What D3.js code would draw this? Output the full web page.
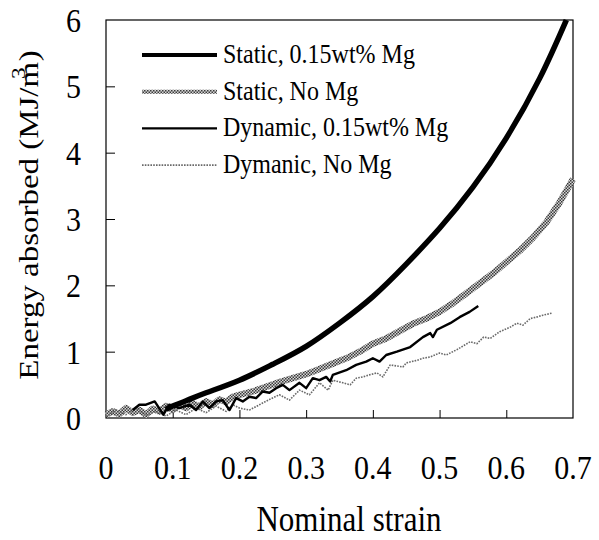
<!DOCTYPE html>
<html>
<head>
<meta charset="utf-8">
<script src="https://cdn.jsdelivr.net/npm/d3@7"></script>
<style>
  body { margin: 0; background: #fff; }
  svg { display: block; }
  text { font-family: "Liberation Serif", "Times New Roman", serif; fill: #000; }
  .tick line { stroke: #000; stroke-width: 1; }
  .domain { display: none; }
</style>
</head>
<body>
<svg id="chart" width="599" height="540"></svg>
<script>
// tick labels
var xTicks = [0, 0.1, 0.2, 0.3, 0.4, 0.5, 0.6, 0.7];
var yTicks = [0, 1, 2, 3, 4, 5, 6];

// Static, 0.15wt% Mg
var staticMgStrain = [0.09, 0.1, 0.12, 0.15, 0.2, 0.25, 0.3, 0.35, 0.4, 0.45, 0.5, 0.55, 0.6, 0.65, 0.69];
var staticMgEnergy = [0.13, 0.18, 0.26, 0.38, 0.57, 0.81, 1.08, 1.43, 1.83, 2.32, 2.86, 3.48, 4.22, 5.12, 6.0];

// Static, No Mg
var staticNoStrain = [0, 0.01, 0.02, 0.03, 0.04, 0.05, 0.06, 0.07, 0.08, 0.09, 0.1, 0.11, 0.12, 0.13, 0.14, 0.15, 0.16, 0.17, 0.18, 0.19, 0.2,
  0.22, 0.24, 0.26, 0.28, 0.3, 0.32, 0.34, 0.36, 0.38, 0.4, 0.42, 0.44, 0.46, 0.48, 0.5, 0.52, 0.54, 0.56, 0.58, 0.6, 0.62, 0.64, 0.66, 0.68, 0.7];
var staticNoEnergy = [0.05, 0.1, 0.06, 0.15, 0.08, 0.12, 0.05, 0.14, 0.1, 0.18, 0.12, 0.2, 0.15, 0.22, 0.17, 0.25, 0.2, 0.28, 0.24, 0.32, 0.35,
  0.4, 0.47, 0.54, 0.6, 0.66, 0.74, 0.82, 0.9, 1.0, 1.12, 1.2, 1.31, 1.42, 1.5, 1.6, 1.73, 1.88, 2.03, 2.18, 2.35, 2.52, 2.72, 2.95, 3.25, 3.6];

// Dynamic, 0.15wt% Mg
var dynMgStrain = [0.04, 0.05, 0.06, 0.073, 0.086, 0.095, 0.11, 0.125, 0.135, 0.145, 0.155, 0.165, 0.175, 0.185, 0.195, 0.205, 0.215, 0.225,
  0.235, 0.245, 0.255, 0.265, 0.275, 0.29, 0.3, 0.31, 0.32, 0.33, 0.336, 0.34, 0.36, 0.375, 0.39, 0.4, 0.41, 0.42, 0.436, 0.456, 0.475, 0.486,
  0.49, 0.496, 0.516, 0.53, 0.545, 0.558];
var dynMgEnergy = [0.12, 0.2, 0.2, 0.25, 0.05, 0.2, 0.15, 0.2, 0.12, 0.25, 0.15, 0.25, 0.27, 0.12, 0.3, 0.25, 0.32, 0.3,
  0.4, 0.38, 0.45, 0.5, 0.42, 0.53, 0.45, 0.6, 0.57, 0.62, 0.55, 0.65, 0.72, 0.8, 0.85, 0.9, 0.85, 0.95, 1.0, 1.07, 1.22, 1.28,
  1.22, 1.33, 1.43, 1.52, 1.6, 1.69];

// Dymanic, No Mg
var dynNoStrain = [0, 0.015, 0.03, 0.045, 0.06, 0.075, 0.09, 0.105, 0.12, 0.135, 0.15, 0.165, 0.18, 0.19, 0.2, 0.215, 0.23, 0.245, 0.26, 0.275,
  0.29, 0.305, 0.32, 0.333, 0.34, 0.355, 0.366, 0.375, 0.385, 0.395, 0.406, 0.415, 0.426, 0.445, 0.45, 0.466, 0.475, 0.486, 0.5, 0.51,
  0.526, 0.546, 0.556, 0.566, 0.576, 0.59, 0.606, 0.616, 0.625, 0.636, 0.645, 0.655, 0.668];
var dynNoEnergy = [0.02, 0.12, 0.05, 0.15, 0.04, 0.1, 0.03, 0.12, 0.05, 0.15, 0.08, 0.18, 0.1, 0.2, 0.15, 0.12, 0.2, 0.28, 0.35, 0.27,
  0.42, 0.35, 0.53, 0.42, 0.57, 0.53, 0.5, 0.6, 0.62, 0.65, 0.68, 0.62, 0.8, 0.77, 0.83, 0.87, 0.9, 0.92, 0.98, 0.95,
  1.03, 1.15, 1.12, 1.22, 1.2, 1.3, 1.37, 1.43, 1.4, 1.5, 1.52, 1.55, 1.58];

var seriesNames = ["Static, 0.15wt% Mg", "Static, No Mg", "Dynamic, 0.15wt% Mg", "Dymanic, No Mg"];

function pairs(xs, ys) {
    return xs.map(function(d, i) { return [d, ys[i]]; });
}

var svg = d3.select("#chart");

var x = d3.scaleLinear().domain([0, 0.7]).range([106, 573]);
var y = d3.scaleLinear().domain([0, 6]).range([418, 20]);

// dithered grey texture for the static no-Mg band
var defs = svg.append("defs");
var pat = defs.append("pattern")
    .attr("id", "dither")
    .attr("patternUnits", "userSpaceOnUse")
    .attr("width", 3)
    .attr("height", 3);
pat.append("rect").attr("width", 3).attr("height", 3).attr("fill", "#d6d6d6");
pat.append("rect").attr("width", 1.5).attr("height", 1.5).attr("fill", "#3a3a3a");
pat.append("rect").attr("x", 1.5).attr("y", 1.5).attr("width", 1.5).attr("height", 1.5).attr("fill", "#3a3a3a");

var styles = [
    { stroke: "#000", width: 5.5, dash: null, curve: d3.curveNatural },
    { stroke: "url(#dither)", width: 6.5, dash: null, curve: d3.curveLinear },
    { stroke: "#000", width: 2.4, dash: null, curve: d3.curveLinear },
    { stroke: "#6a6a6a", width: 1.6, dash: "1.6,1.2", curve: d3.curveLinear }
];

var data = [
    pairs(staticMgStrain, staticMgEnergy),
    pairs(staticNoStrain, staticNoEnergy),
    pairs(dynMgStrain, dynMgEnergy),
    pairs(dynNoStrain, dynNoEnergy)
];

// frame
svg.append("rect")
    .attr("x", x(0)).attr("y", y(6))
    .attr("width", x(0.7) - x(0)).attr("height", y(0) - y(6))
    .attr("fill", "none").attr("stroke", "#000").attr("stroke-width", 1.2);

// inner ticks
svg.append("g")
    .attr("transform", "translate(0," + y(0) + ")")
    .call(d3.axisBottom(x).tickValues([0.1, 0.2, 0.3, 0.4, 0.5, 0.6]).tickSize(-8).tickFormat(""));
svg.append("g")
    .attr("transform", "translate(" + x(0) + ",0)")
    .call(d3.axisLeft(y).tickValues([1, 2, 3, 4, 5]).tickSize(-9).tickFormat(""));

// curves, drawn back to front
var order = [1, 3, 2, 0];
order.forEach(function(i) {
    var line = d3.line()
        .x(function(d) { return x(d[0]); })
        .y(function(d) { return y(d[1]); })
        .curve(styles[i].curve);
    svg.append("path")
        .datum(data[i])
        .attr("d", line)
        .attr("fill", "none")
        .attr("stroke", styles[i].stroke)
        .attr("stroke-width", styles[i].width)
        .attr("stroke-dasharray", styles[i].dash)
        .attr("stroke-linejoin", "round");
});

var vs = 1.13; // the figure's type is slightly taller than wide

// tick labels
svg.append("g").selectAll("text")
    .data(xTicks)
    .enter().append("text")
        .attr("transform", function(d) { return "translate(" + x(d) + ",479) scale(1," + vs + ")"; })
        .attr("text-anchor", "middle")
        .style("font-size", "30px")
        .text(function(d) { return d === 0 ? "0" : d3.format(".1f")(d); });

svg.append("g").selectAll("text")
    .data(yTicks)
    .enter().append("text")
        .attr("transform", function(d) { return "translate(81," + (y(d) + 12) + ") scale(1," + vs + ")"; })
        .attr("text-anchor", "end")
        .style("font-size", "30px")
        .text(function(d) { return d; });

// axis titles
svg.append("text")
    .attr("transform", "translate(349,531) scale(1," + vs + ")")
    .attr("text-anchor", "middle")
    .style("font-size", "31px")
    .text("Nominal strain");

var yt = svg.append("text")
    .attr("transform", "translate(38,215) rotate(-90) scale(1.22,1)")
    .attr("text-anchor", "middle")
    .style("font-size", "27px");
yt.append("tspan").text("Energy absorbed (MJ/m");
yt.append("tspan").attr("dx", -14).attr("dy", -13).style("font-size", "19px").text("3");
yt.append("tspan").attr("dx", 5).attr("dy", 13).text(")");

// legend
var legend = svg.append("g").attr("class", "legend");
seriesNames.forEach(function(name, i) {
    var ly = 55 + i * 36.7;
    legend.append("line")
        .attr("x1", 142).attr("x2", 217)
        .attr("y1", ly).attr("y2", ly)
        .attr("stroke", styles[i].stroke)
        .attr("stroke-width", i < 2 ? 4 : styles[i].width)
        .attr("stroke-dasharray", styles[i].dash);
    legend.append("text")
        .attr("transform", "translate(223," + (ly + 8) + ") scale(1," + vs + ")")
        .style("font-size", "24px")
        .text(name);
});
</script>
</body>
</html>
